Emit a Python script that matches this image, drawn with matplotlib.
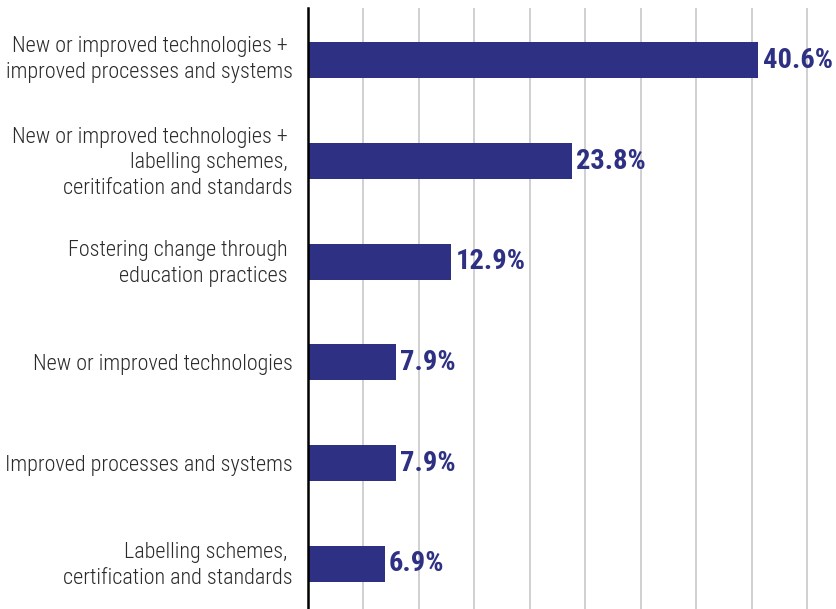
import matplotlib
matplotlib.use("Agg")
import matplotlib.pyplot as plt
from matplotlib.transforms import ScaledTranslation

# survey answers, top to bottom
categories = [
    "New or improved technologies + \nimproved processes and systems",
    "New or improved technologies + \nlabelling schemes, \nceritifcation and standards",
    "Fostering change through \neducation practices ",
    "New or improved technologies",
    "Improved processes and systems",
    "Labelling schemes, \ncertification and standards",
]
shares = [40.6, 23.8, 12.9, 7.9, 7.9, 6.9]
value_labels = ["40.6%", "23.8%", "12.9%", "7.9%", "7.9%", "6.9%"]
grid_ticks = [5, 10, 15, 20, 25, 30, 35, 40, 45]

bar_color = "#2e3083"
label_fonts = ["Roboto Condensed", "Roboto", "DejaVu Sans"]

fig = plt.figure(figsize=(8.36, 6.09), dpi=100)
ax = fig.add_axes([308 / 836, 0, 1 - 308 / 836, 1 - 8 / 609])

ypos = list(range(len(categories)))
ax.barh(ypos, shares, height=0.36, color=bar_color, zorder=3)

for y, v, txt in zip(ypos, shares, value_labels):
    ax.annotate(txt, (v, y), xytext=(3, 0), textcoords="offset points",
                ha="left", va="center", fontsize=20.5, fontweight="bold",
                color=bar_color, family=label_fonts, zorder=4)

ax.set_xlim(0, 47.6)
ax.set_ylim(5.45, -0.52)
ax.set_xticks(grid_ticks)
ax.set_xticklabels([])
ax.tick_params(axis="x", length=0)
ax.grid(axis="x", color="#c8c8c8", linewidth=1.2, zorder=0)

ax.set_yticks(ypos)
ax.set_yticklabels(categories, fontsize=15.9, color="#2a2a2a",
                   family=label_fonts, fontweight="light", linespacing=1.3)
ax.tick_params(axis="y", length=0, pad=11)
# wrapped labels sit a little higher than the single-line ones
for i, lbl in enumerate(ax.get_yticklabels()):
    up = 0
    if "\n" in lbl.get_text():
        up = 3
    if i == 0:
        up = 6
    lbl.set_transform(lbl.get_transform() +
                      ScaledTranslation(0, up / 100, fig.dpi_scale_trans))

for side in ["top", "right", "bottom"]:
    ax.spines[side].set_visible(False)
ax.spines["left"].set_color("black")
ax.spines["left"].set_linewidth(1.8)
ax.spines["left"].set_zorder(5)

fig.savefig("out.png", dpi=100)
